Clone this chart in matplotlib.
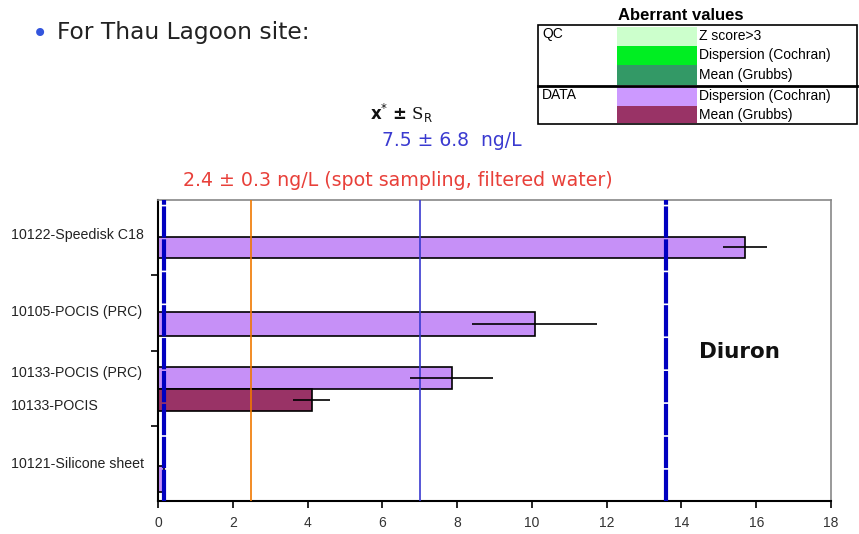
import matplotlib
matplotlib.use("Agg")
import matplotlib.pyplot as plt
from matplotlib.patches import Rectangle
from matplotlib.lines import Line2D
import matplotlib.transforms as mtransforms

# ---- data ----
labels = ["10122-Speedisk C18", "10105-POCIS (PRC)", "10133-POCIS (PRC)", "10133-POCIS", "10121-Silicone sheet"]
values = [15.7, 10.08, 7.85, 4.11, 0.15]
errors = [0.6, 1.67, 1.12, 0.5, 0.0]
flags = ["dispersion", "dispersion", "dispersion", "mean", "dispersion"]
assigned_value = 7.0          # solid blue line
limits = [0.15, 13.6]         # dashed lines
spot_value = 2.5              # orange line
xticks = [0, 2, 4, 6, 8, 10, 12, 14, 16, 18]

legend_groups = ["QC", "DATA"]
qc_items = ["Z score>3", "Dispersion (Cochran)", "Mean (Grubbs)"]
data_items = ["Dispersion (Cochran)", "Mean (Grubbs)"]

# ---- layout ----
bar_y = [3.37, 2.35, 1.63, 1.34, 0.29]
bar_h = [0.28, 0.32, 0.29, 0.29, 0.35]
label_y = [3.53, 2.51, 1.70, 1.26, 0.49]
colors = {"dispersion": "#c690f7", "mean": "#993366"}

W, H = 859, 534
fig = plt.figure(figsize=(W / 100, H / 100), dpi=100)
ax = fig.add_axes([158 / W, 1 - 501 / H, (831 - 158) / W, (501 - 200) / H])

for y, v, e, f, h in zip(bar_y, values, errors, flags, bar_h):
    ax.barh(y, v, height=h, color=colors[f], edgecolor="black", linewidth=1.2, zorder=2)
    if e > 0:
        ax.errorbar(v, y, xerr=e, fmt="none", ecolor="black", elinewidth=1.2, capsize=0, zorder=4)

ax.axvline(spot_value, color="#f07800", lw=1.2, zorder=3)
ax.axvline(assigned_value, color="#3a3ad0", lw=1.2, zorder=3)
for L in limits:
    ax.axvline(L, color="#0000c0", lw=3, linestyle=(0, (7.5, 0.4)), zorder=3)

ax.set_xlim(0, 18)
ax.set_ylim(0, 4)
ax.set_xticks(xticks)
ax.set_xticklabels([str(t) for t in xticks], fontsize=10, color="#333333", family="Liberation Sans")
ax.set_yticks([1, 2, 3])
ax.set_yticklabels([])
ax.tick_params(axis="x", direction="out", length=5, width=1.2, color="black", pad=6)
ax.tick_params(axis="y", direction="out", length=5, width=1.2, color="black")
for s in ["top", "right"]:
    ax.spines[s].set_color("#888888")
    ax.spines[s].set_linewidth(1.2)
for s in ["left", "bottom"]:
    ax.spines[s].set_color("black")
    ax.spines[s].set_linewidth(1.5)

lab_tr = mtransforms.blended_transform_factory(fig.transFigure, ax.transData)
for lab, ly in zip(labels, label_y):
    ax.text(11 / W, ly, lab, transform=lab_tr, ha="left", va="center",
            fontsize=10.2, family="Liberation Sans", color="#222222")

ax.text(15.56, 1.98, "Diuron", ha="center", va="center", fontsize=15.5, fontweight="bold",
        family="DejaVu Sans", color="#111111")

# ---- figure texts ----
fig.text(40 / W, 1 - 34 / H, "\u2022", color="#3355dd", fontsize=20, ha="center", va="center")
fig.text(57 / W, 1 - 33 / H, "For Thau Lagoon site:", fontsize=16.8, ha="left", va="center",
         color="#222222", family="DejaVu Sans")
fig.text(402 / W, 1 - 113 / H, r"$\mathbf{x}^{*}$ $\mathbf{\pm}$ S$_{\mathrm{R}}$", fontsize=12,
         ha="center", va="center", color="#111111", family="DejaVu Serif")
fig.text(452 / W, 1 - 141 / H, "7.5 \u00b1 6.8  ng/L", fontsize=13.5, ha="center", va="center",
         color="#3a3ad0")
fig.text(398 / W, 1 - 181 / H, "2.4 \u00b1 0.3 ng/L (spot sampling, filtered water)", fontsize=13.7,
         ha="center", va="center", color="#e8403a")

# ---- legend table ----
def fx(px): return px / W
def fy(py): return 1 - py / H

fig.text(fx(681), fy(15), "Aberrant values", fontsize=12, fontweight="bold", ha="center",
         va="center", family="Liberation Sans")
box_l, box_r, box_t, box_b, sep = 538, 857, 25, 124, 86
sw_l, sw_r = 617, 697
qc_rows = [(27, 46), (46, 65), (65, 85)]
data_rows = [(87, 106), (106, 123)]
qc_colors = ["#ccffcc", "#00ee22", "#339966"]
data_colors = ["#cc99ff", "#993366"]
item_fs = 10
for (t, b), c, txt in zip(qc_rows, qc_colors, qc_items):
    fig.patches.append(Rectangle((fx(sw_l), fy(b)), fx(sw_r) - fx(sw_l), fy(t) - fy(b),
                                 transform=fig.transFigure, color=c, lw=0))
    fig.text(fx(699), fy((t + b) / 2), txt, fontsize=item_fs, ha="left", va="center", family="Liberation Sans")
for (t, b), c, txt in zip(data_rows, data_colors, data_items):
    fig.patches.append(Rectangle((fx(sw_l), fy(b)), fx(sw_r) - fx(sw_l), fy(t) - fy(b),
                                 transform=fig.transFigure, color=c, lw=0))
    fig.text(fx(699), fy((t + b) / 2), txt, fontsize=item_fs, ha="left", va="center", family="Liberation Sans")
fig.text(fx(542), fy(34), legend_groups[0], fontsize=item_fs, ha="left", va="center", family="Liberation Sans")
fig.text(fx(542), fy(95), legend_groups[1], fontsize=item_fs, ha="left", va="center", family="Liberation Sans")
fig.patches.append(Rectangle((fx(box_l), fy(box_b)), fx(box_r) - fx(box_l), fy(box_t) - fy(box_b),
                             transform=fig.transFigure, fill=False, ec="black", lw=1.2))
fig.lines.append(Line2D([fx(box_l), fx(box_r)], [fy(sep), fy(sep)], transform=fig.transFigure,
                        color="black", lw=2))

fig.savefig("out.png", dpi=100)
